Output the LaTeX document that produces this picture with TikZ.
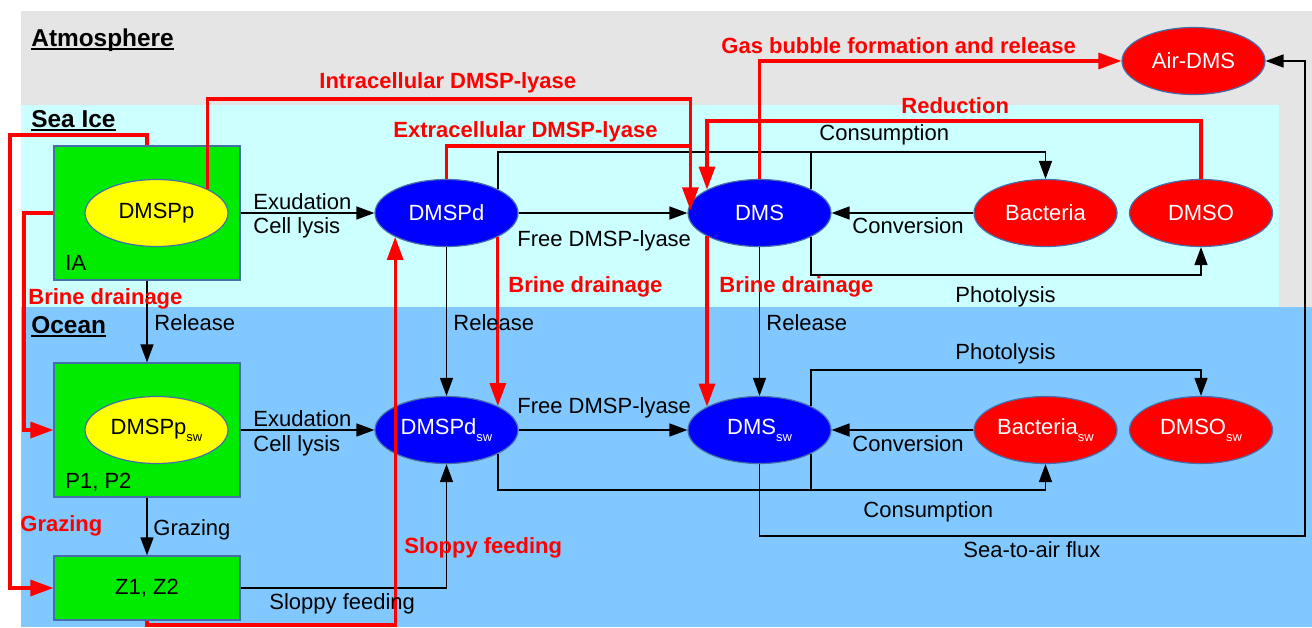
\documentclass[tikz,border=0pt]{standalone}
\usepackage{fontspec}
\setmainfont{Liberation Sans}
\usetikzlibrary{arrows.meta,calc,shapes.geometric}
\definecolor{atmgray}{RGB}{229,229,229}
\definecolor{icecyan}{RGB}{204,255,255}
\definecolor{oceanblue}{RGB}{128,200,255}
\definecolor{boxgreen}{RGB}{0,235,0}
\definecolor{bordc}{RGB}{70,110,170}
\definecolor{nodeblue}{RGB}{0,0,255}
\definecolor{nodered}{RGB}{255,0,0}
\definecolor{nodeyellow}{RGB}{255,255,0}
\definecolor{flowred}{RGB}{255,0,0}
\newcommand\swsub{\raisebox{-3.5pt}{\fontsize{6.5}{7}\selectfont sw}}
\begin{document}
\begin{tikzpicture}[x=0.5pt,y=-0.5pt,
 box/.style={draw=bordc, line width=0.6pt, fill=boxgreen, inner sep=0pt, minimum width=93pt, font=\fontsize{11}{13}\selectfont},
 pool/.style={ellipse, draw=bordc, line width=0.6pt, inner sep=0pt, minimum width=71.5pt, minimum height=33.5pt, font=\fontsize{11}{13}\selectfont},
 bluepool/.style={pool, fill=nodeblue, text=white},
 redpool/.style={pool, fill=nodered, text=white},
 yelpool/.style={pool, fill=nodeyellow, text=black},
 lbl/.style={inner sep=0pt, anchor=base west, font=\fontsize{11}{13}\selectfont},
 rlbl/.style={inner sep=0pt, anchor=base west, text=flowred, font=\fontsize{11}{13}\selectfont\bfseries},
 hdr/.style={inner sep=0pt, anchor=base west, font=\fontsize{12.2}{14}\selectfont\bfseries},
 flow/.style={line width=0.75pt, -{Triangle[length=9pt,width=6.5pt]}},
 flowline/.style={line width=0.75pt},
 rflow/.style={line width=1.6pt, draw=flowred, -{Triangle[length=11.5pt,width=8pt]}},
 rline/.style={line width=1.6pt, draw=flowred},
]
\useasboundingbox (0,0) rectangle (1312,627);
% backgrounds
\fill[white] (0,0) rectangle (1312,627);
\fill[atmgray] (21,11) rectangle (1312,307);
\fill[icecyan] (21,105) rectangle (1279,307);
\fill[oceanblue] (21,307) rectangle (1312,627);

% headings
\node[hdr] (hAtm) at (31,46) {Atmosphere};
\node[hdr] (hIce) at (31,127) {Sea Ice};
\node[hdr] (hOce) at (31,333) {Ocean};
\foreach \h in {hAtm,hIce,hOce}
  \draw[line width=0.9pt] ([yshift=-1.6pt]\h.base west) -- ([yshift=-1.6pt]\h.base east);

% sea ice nodes
\node[box, minimum height=67pt] (IA) at (147,213) {};
\node[yelpool] (DMSPp) at (156.5,213) {DMSPp};
\node[lbl] (IAlbl) at (65,270) {IA};
\node[bluepool] (DMSPd) at (446.5,213) {DMSPd};
\node[bluepool] (DMS) at (759.5,213) {DMS};
\node[redpool] (Bact) at (1045.5,213) {Bacteria};
\node[redpool] (DMSO) at (1201,213) {DMSO};
\node[redpool] (AirDMS) at (1193.5,61) {Air-DMS};

% ocean nodes
\node[box, minimum height=67pt] (P1) at (147,430) {};
\node[yelpool] (DMSPpsw) at (156.5,430) {DMSPp\swsub};
\node[lbl] (P1lbl) at (65,488) {P1, P2};
\node[box, minimum height=32pt] (Z) at (147,588) {Z1, Z2};
\node[bluepool] (DMSPdsw) at (446.5,430) {DMSPd\swsub};
\node[bluepool] (DMSsw) at (759.5,430) {DMS\swsub};
\node[redpool] (Bactsw) at (1045.5,430) {Bacteria\swsub};
\node[redpool] (DMSOsw) at (1201,430) {DMSO\swsub};

% corner coordinates
\coordinate (yIntra) at (0,99);
\coordinate (yExtra) at (0,146);
\coordinate (yRed) at (0,121);
\coordinate (yCons) at (0,152);
\coordinate (yPhot) at (0,275);
\coordinate (xBrL) at (24,0);
\coordinate (grzC) at (10,135);
\coordinate (yBot) at (0,625);
\coordinate (yConsO) at (0,490);
\coordinate (yPhotO) at (0,370);
\coordinate (flux) at (1305,536);
\coordinate (tipDMS) at ($(DMS.172)+(0,7)$);

% black connectors
\draw[flow] (IA.east) -- (DMSPd.west);
\draw[flow] (DMSPd.east) -- (DMS.west);
\draw[flow] (DMSPd.25) -- (DMSPd.25 |- yCons) -| (Bact.north);
\draw[flowline] (DMS.25) -- (DMS.25 |- yCons);
\draw[flow] (DMS.-25) -- (DMS.-25 |- yPhot) -| (DMSO.south);
\draw[flow] (Bact.west) -- (DMS.east);
\draw[flow] (IA.south) -- (P1.north);
\draw[flow] (DMSPd.south) -- (DMSPdsw.north);
\draw[flow] (DMS.south) -- (DMSsw.north);
\draw[flow] (P1.east) -- (DMSPdsw.west);
\draw[flow] (DMSPdsw.east) -- (DMSsw.west);
\draw[flow] (Bactsw.west) -- (DMSsw.east);
\draw[flow] (DMSPdsw.-25) -- (DMSPdsw.-25 |- yConsO) -| (Bactsw.south);
\draw[flowline] (DMSsw.-25) -- (DMSsw.-25 |- yConsO);
\draw[flow] (DMSsw.25) -- (DMSsw.25 |- yPhotO) -| (DMSOsw.north);
\draw[flow] (P1.south) -- (Z.north);
\draw[flow] (Z.east) -| (DMSPdsw.south);
\draw[flow] (DMSsw.south) |- (flux) |- (AirDMS.east);

% red connectors
\draw[rline] (DMSPd.north) |- (tipDMS |- yExtra);
\draw[rflow] (DMSPp.25) -- (DMSPp.25 |- yIntra) -| (tipDMS);
\draw[rflow] (DMS.north) |- (AirDMS.west);
\draw[rflow] (DMSO.north) -- (DMSO.north |- yRed) -| (DMS.156);
\draw[rflow] (DMSPd.-25) -- (DMSPdsw.25);
\draw[rflow] (DMS.-156) -- (DMSsw.156);
\draw[rflow] (IA.west) -- (IA.west -| xBrL) |- (P1.west);
\draw[rflow] (IA.north) |- (grzC) |- (Z.west);
\draw[rflow] (Z.south) -- (Z.south |- yBot) -| (DMSPd.-155);

% black labels
\node[lbl] (lExu1) at (253,209) {Exudation};
\node[lbl] (lLys1) at (253,233) {Cell lysis};
\node[lbl] (lFree1) at (517,246) {Free DMSP-lyase};
\node[lbl] (lCons1) at (819,140) {Consumption};
\node[lbl] (lConv1) at (852,233) {Conversion};
\node[lbl] (lPhot1) at (955,302) {Photolysis};
\node[lbl] (lRel1) at (154,330) {Release};
\node[lbl] (lRel2) at (453,330) {Release};
\node[lbl] (lRel3) at (766,330) {Release};
\node[lbl] (lExu2) at (253,426) {Exudation};
\node[lbl] (lLys2) at (253,451) {Cell lysis};
\node[lbl] (lFree2) at (517,413) {Free DMSP-lyase};
\node[lbl] (lConv2) at (852,451) {Conversion};
\node[lbl] (lPhot2) at (955,359) {Photolysis};
\node[lbl] (lCons2) at (863,517) {Consumption};
\node[lbl] (lFlux) at (963,557) {Sea-to-air flux};
\node[lbl] (lGraz) at (153,535) {Grazing};
\node[lbl] (lSlop) at (269,609) {Sloppy feeding};

% red labels
\node[rlbl] (rIntra) at (319,88) {Intracellular DMSP-lyase};
\node[rlbl] (rExtra) at (393,137) {Extracellular DMSP-lyase};
\node[rlbl] (rGas) at (721,53) {Gas bubble formation and release};
\node[rlbl] (rRed) at (901,113) {Reduction};
\node[rlbl] (rBr1) at (28,304) {Brine drainage};
\node[rlbl] (rBr2) at (508,292) {Brine drainage};
\node[rlbl] (rBr3) at (719,292) {Brine drainage};
\node[rlbl] (rGraz) at (20,531) {Grazing};
\node[rlbl] (rSlop) at (404,553) {Sloppy feeding};
\end{tikzpicture}
\end{document}
